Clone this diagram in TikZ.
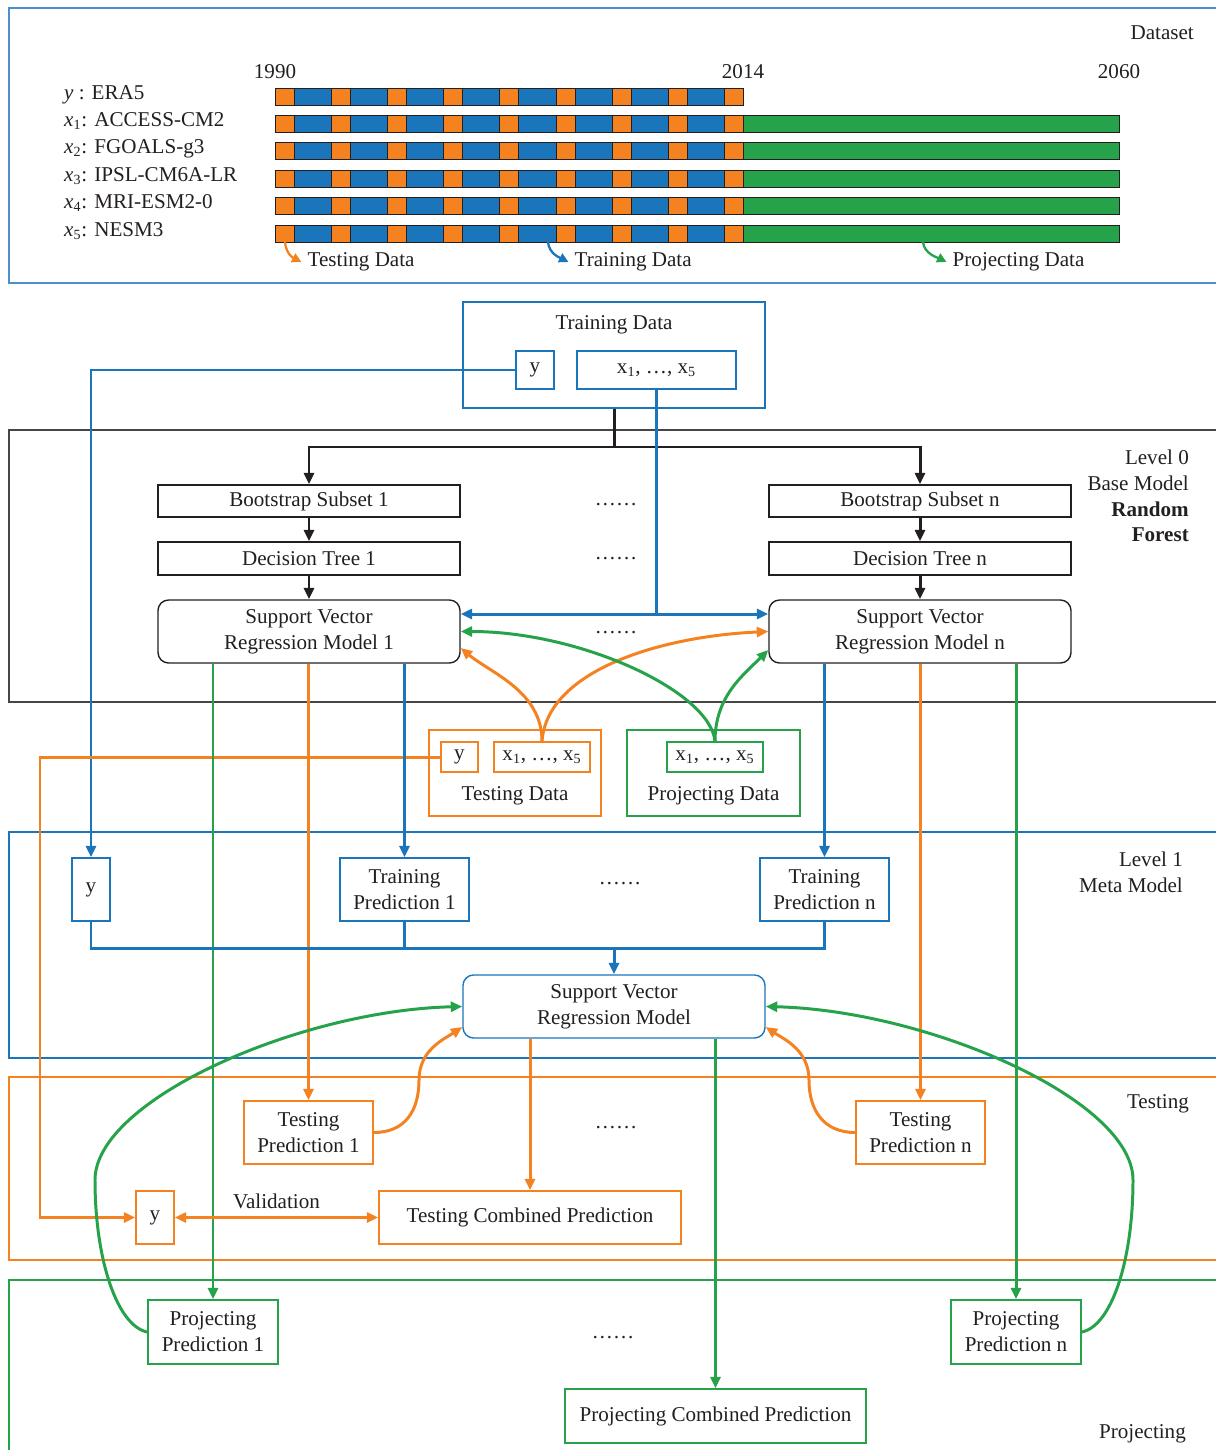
\documentclass[tikz,border=0pt]{standalone}
\usepackage{fontspec}
\setmainfont{Liberation Serif}
\usetikzlibrary{arrows.meta,calc}
\definecolor{StkBlue}{RGB}{27,117,187}
\definecolor{StkOrange}{RGB}{245,130,32}
\definecolor{StkGreen}{RGB}{37,162,74}
\definecolor{StkDark}{RGB}{35,31,32}
\definecolor{StkGrey}{RGB}{70,70,70}
\definecolor{StkSky}{RGB}{74,144,204}
\newcommand{\stkfont}{\fontsize{12}{14.7}\selectfont}
\tikzset{
  stk/box/.style={
    draw=StkDark,
    line width=0.8pt,
    fill=white,
    align=center,
    text=StkDark,
    inner sep=1pt,
    font=\stkfont
  },
  stk/bluebox/.style={stk/box, draw=StkBlue},
  stk/orangebox/.style={stk/box, draw=StkOrange},
  stk/greenbox/.style={stk/box, draw=StkGreen},
  stk/model/.style={rounded corners=6pt},
  stk/size/.style 2 args={minimum width=#1*0.02cm, minimum height=#2*0.02cm},
  stk/text/.style={font=\stkfont, text=StkDark, align=center},
  stk/frame/.style={line width=0.9pt},
  stk/bar/.style={draw=StkDark, line width=0.5pt},
  stk/arrow/.style={-{Triangle[length=2.3mm,width=2mm]}, line width=1.7pt, draw=StkDark},
  stk/line/.style={line width=1.7pt, draw=StkDark},
  stk/bluearrow/.style={stk/arrow, draw=StkBlue},
  stk/orangearrow/.style={stk/arrow, draw=StkOrange},
  stk/greenarrow/.style={stk/arrow, draw=StkGreen},
  stk/blueline/.style={stk/line, draw=StkBlue},
  stk/orangedouble/.style={{Triangle[length=2.3mm,width=2mm]}-{Triangle[length=2.3mm,width=2mm]}, line width=1.7pt, draw=StkOrange},
  stk/smallarrow/.style={-{Triangle[length=1.9mm,width=1.9mm]}, line width=1.3pt}
}

\begin{document}
\begin{tikzpicture}[x=0.02cm,y=-0.02cm]
  \useasboundingbox (0,0) rectangle (1215,1450);

  % section frames
  \draw[stk/frame, draw=StkSky] (1216,8) -- (9,8) -- (9,283) -- (1216,283);
  \draw[stk/frame, draw=StkGrey] (1216,430) -- (9,430) -- (9,702) -- (1216,702);
  \draw[stk/frame, draw=StkBlue] (1216,832) -- (9,832) -- (9,1058) -- (1216,1058);
  \draw[stk/frame, draw=StkOrange] (1216,1077) -- (9,1077) -- (9,1260) -- (1216,1260);
  \draw[stk/frame, draw=StkGreen] (1216,1280) -- (9,1280) -- (9,1452);

  % dataset
  \node[stk/text, anchor=east] (datasetTxt) at (1200,33) {Dataset};
  \node[stk/text] (yr1990) at (275,72) {1990};
  \node[stk/text] (yr2014) at (743,72) {2014};
  \node[stk/text] (yr2060) at (1119,72) {2060};
  \node[stk/text, anchor=base west] (rowY) at (58,99) {\textit{y} : ERA5};
  \node[stk/text, anchor=base west] (rowX1) at (58,126) {\textit{x}\textsubscript{1}: ACCESS-CM2};
  \node[stk/text, anchor=base west] (rowX2) at (58,153.5) {\textit{x}\textsubscript{2}: FGOALS-g3};
  \node[stk/text, anchor=base west] (rowX3) at (58,181) {\textit{x}\textsubscript{3}: IPSL-CM6A-LR};
  \node[stk/text, anchor=base west] (rowX4) at (58,208.5) {\textit{x}\textsubscript{4}: MRI-ESM2-0};
  \node[stk/text, anchor=base west] (rowX5) at (58,236) {\textit{x}\textsubscript{5}: NESM3};
  \foreach \r in {0,...,5} {
    \pgfmathsetmacro{\yt}{88+27.4*\r}
    \foreach \k in {0,...,7}
      \filldraw[stk/bar, fill=StkBlue] ({275+56.19*\k+19},\yt) rectangle ++(37.19,17);
    \foreach \k in {0,...,8}
      \filldraw[stk/bar, fill=StkOrange] ({275+56.19*\k},\yt) rectangle ++(19,17);
    \ifnum\r>0 \filldraw[stk/bar, fill=StkGreen] (743.5,\yt) rectangle ++(375.5,17); \fi
  }
  \coordinate (tdFrom) at (285,242);
  \coordinate (trFrom) at (548,242);
  \coordinate (pdFrom) at (923,242);
  \node[stk/text, anchor=west] (tdLbl) at (301.5,262) {Testing Data};
  \node[stk/text, anchor=west] (trLbl) at (568.5,262) {Training Data};
  \node[stk/text, anchor=west] (pdLbl) at (946.5,262) {Projecting Data};
  \draw[stk/smallarrow, draw=StkOrange] (tdFrom) .. controls +(1,12) and +(-8,-4) .. (tdLbl.west);
  \draw[stk/smallarrow, draw=StkBlue] (trFrom) .. controls +(1,12) and +(-8,-4) .. (trLbl.west);
  \draw[stk/smallarrow, draw=StkGreen] (pdFrom) .. controls +(1,12) and +(-8,-4) .. (pdLbl.west);

  % training data
  \node[stk/bluebox, stk/size={302}{106}] (trainData) at (614,355) {};
  \node[stk/text] (trainTitle) at (614,325) {Training Data};
  \node[stk/bluebox, stk/size={38}{38}] (trainY) at (535,370) {y};
  \node[stk/bluebox, stk/size={159}{38}] (trainX) at (656.5,370) {x\textsubscript{1}, …, x\textsubscript{5}};

  % level 0
  \node[stk/text, anchor=east, align=right] (lvl0Txt) at (1195,496) {Level 0\\Base Model\\\textbf{Random}\\\textbf{Forest}};
  \node[stk/box, stk/size={302}{32}] (boot1) at (309,501) {Bootstrap Subset 1};
  \node[stk/box, stk/size={302}{32}] (bootN) at (920,501) {Bootstrap Subset n};
  \node[stk/box, stk/size={302}{33}] (tree1) at (309,558.5) {Decision Tree 1};
  \node[stk/box, stk/size={302}{33}] (treeN) at (920,558.5) {Decision Tree n};
  \node[stk/box, stk/model, stk/size={302}{63}] (svr1) at (309,631.5) {Support Vector\\Regression Model 1};
  \node[stk/box, stk/model, stk/size={302}{63}] (svrN) at (920,631.5) {Support Vector\\Regression Model n};
  \node[stk/text] (dots0a) at (616,505) {……};
  \node[stk/text] (dots0b) at (616,559) {……};
  \node[stk/text] (dots0c) at (616,633) {……};

  % testing and projecting data
  \node[stk/orangebox, stk/size={172}{86}] (testData) at (515,773) {};
  \node[stk/text] (testTitle) at (515,796) {Testing Data};
  \node[stk/orangebox, stk/size={37}{30}] (testY) at (459.5,757) {y};
  \node[stk/orangebox, stk/size={96}{30}] (testX) at (542,757) {x\textsubscript{1}, …, x\textsubscript{5}};
  \node[stk/greenbox, stk/size={173}{86}] (projData) at (713.5,773) {};
  \node[stk/text] (projTitle) at (713.5,796) {Projecting Data};
  \node[stk/greenbox, stk/size={96}{30}] (projX) at (715,757) {x\textsubscript{1}, …, x\textsubscript{5}};

  % level 1
  \node[stk/text, anchor=east, align=right] (lvl1Txt) at (1189,872) {Level 1\\Meta Model};
  \node[stk/bluebox, stk/size={38}{63}] (metaY) at (91,889.5) {y};
  \node[stk/bluebox, stk/size={129}{63}] (trainPred1) at (404.5,889.5) {Training\\Prediction 1};
  \node[stk/bluebox, stk/size={129}{63}] (trainPredN) at (824.5,889.5) {Training\\Prediction n};
  \node[stk/text] (dots1) at (620,884) {……};
  \node[stk/bluebox, stk/model, stk/size={302}{63}] (svrMeta) at (614,1006.5) {Support Vector\\Regression Model};

  % testing
  \node[stk/text, anchor=east] (testingTxt) at (1195,1104) {Testing};
  \node[stk/orangebox, stk/size={129}{63}] (testPred1) at (308.5,1132.5) {Testing\\Prediction 1};
  \node[stk/orangebox, stk/size={129}{63}] (testPredN) at (920.5,1132.5) {Testing\\Prediction n};
  \node[stk/text] (dots2) at (616,1128) {……};
  \node[stk/orangebox, stk/size={38}{53}] (valY) at (155,1217.5) {y};
  \node[stk/orangebox, stk/size={302}{53}] (testComb) at (530,1217.5) {Testing Combined Prediction};

  % projecting
  \node[stk/text, anchor=east] (projectingTxt) at (1192,1434) {Projecting};
  \node[stk/greenbox, stk/size={130}{64}] (projPred1) at (213,1332) {Projecting\\Prediction 1};
  \node[stk/greenbox, stk/size={130}{64}] (projPredN) at (1016,1332) {Projecting\\Prediction n};
  \node[stk/text] (dots3) at (613,1338) {……};
  \node[stk/greenbox, stk/size={301}{54}] (projComb) at (715.5,1416) {Projecting Combined Prediction};

  % base model flow
  \coordinate (split) at (614,447);
  \draw[stk/arrow] (trainData.south) -- (split) -| (boot1.north);
  \draw[stk/arrow] (split) -| (bootN.north);
  \draw[stk/arrow] (boot1.south) -- (tree1.north);
  \draw[stk/arrow] (bootN.south) -- (treeN.north);
  \draw[stk/arrow] (tree1.south) -- (svr1.north);
  \draw[stk/arrow] (treeN.south) -- (svrN.north);

  % training inputs
  \coordinate (xsplit) at (656.5,614);
  \draw[stk/bluearrow] (trainY.west) -| (metaY.north);
  \draw[stk/blueline] (trainX.south) -- (xsplit);
  \draw[stk/bluearrow] (xsplit) -- (svr1.east |- xsplit);
  \draw[stk/bluearrow] (xsplit) -- (svrN.west |- xsplit);

  % testing / projecting inputs
  \draw[stk/orangearrow] (testX.north) .. controls +(0,-50) and +(30,25) .. ($(svr1.east)+(0,16.5)$);
  \draw[stk/orangearrow] (testX.north) .. controls +(5,-70) and +(-110,5) .. (svrN.west);
  \draw[stk/greenarrow] (projX.north) .. controls +(-5,-50) and +(120,0) .. (svr1.east);
  \draw[stk/greenarrow] (projX.north) .. controls +(0,-45) and +(-25,25) .. ($(svrN.west)+(0,18.5)$);
  \coordinate (tbend) at (40,757);
  \draw[stk/orangearrow] (testY.west) -- (tbend) |- (valY.west);

  % base model outputs
  \draw[stk/greenarrow] (svr1.south -| projPred1.north) -- (projPred1.north);
  \draw[stk/orangearrow] (svr1.south -| testPred1.north) -- (testPred1.north);
  \draw[stk/bluearrow] (svr1.south -| trainPred1.north) -- (trainPred1.north);
  \draw[stk/bluearrow] (svrN.south -| trainPredN.north) -- (trainPredN.north);
  \draw[stk/orangearrow] (svrN.south -| testPredN.north) -- (testPredN.north);
  \draw[stk/greenarrow] (svrN.south -| projPredN.north) -- (projPredN.north);

  % meta model
  \coordinate (bus) at (614,948);
  \draw[stk/blueline] (metaY.south) |- (bus) -| (trainPredN.south);
  \draw[stk/blueline] (trainPred1.south) -- (trainPred1.south |- bus);
  \draw[stk/bluearrow] (bus) -- (svrMeta.north);
  \draw[stk/orangearrow] (testPred1.east) .. controls +(32,0) and +(0,30) .. (419,1080) .. controls +(0,-30) and +(-18,12) .. ($(svrMeta.west)+(0,20.5)$);
  \draw[stk/orangearrow] (testPredN.west) .. controls +(-32,0) and +(0,30) .. (809,1080) .. controls +(0,-30) and +(18,12) .. ($(svrMeta.east)+(0,20.5)$);
  \draw[stk/greenarrow] (projPred1.west) .. controls +(-30,-6) and +(0,80) .. (95,1180) .. controls +(0,-80) and +(-163,4) .. (svrMeta.west);
  \draw[stk/greenarrow] (projPredN.east) .. controls +(30,-6) and +(0,80) .. (1133,1180) .. controls +(0,-80) and +(163,4) .. (svrMeta.east);
  \draw[stk/orangearrow] (svrMeta.south -| testComb.north) -- (testComb.north);
  \draw[stk/greenarrow] (svrMeta.south -| projComb.north) -- (projComb.north);
  \draw[stk/orangedouble] (valY.east) -- node[stk/text, above=1pt] (valTxt) {Validation} (testComb.west);
\end{tikzpicture}
\end{document}
